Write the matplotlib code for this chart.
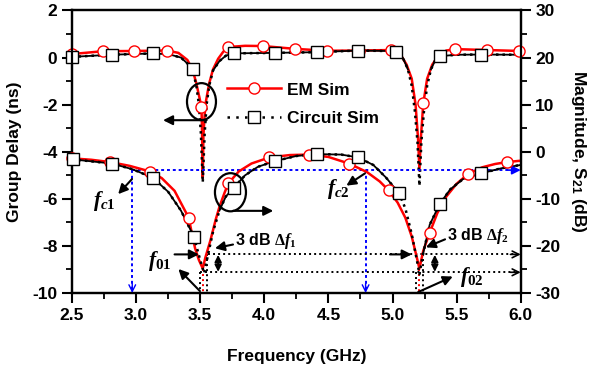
import numpy as np
import matplotlib
matplotlib.use("Agg")
import matplotlib.pyplot as plt
from matplotlib.lines import Line2D
from matplotlib.patches import Ellipse

plt.rcParams['font.family'] = ['Liberation Sans', 'DejaVu Sans']
plt.rcParams['font.weight'] = 'bold'
plt.rcParams['mathtext.fontset'] = 'custom'
plt.rcParams['mathtext.rm'] = 'Liberation Serif:bold'
plt.rcParams['mathtext.it'] = 'Liberation Serif:italic:bold'
plt.rcParams['mathtext.bf'] = 'Liberation Sans:bold'

# ---- group delay (ns), left axis ----
em_gd_f = [2.5, 2.74, 2.98, 3.24, 3.33, 3.40, 3.44, 3.47, 3.51, 3.515, 3.52, 3.525, 3.54, 3.57,
           3.60, 3.64, 3.68, 3.72, 3.85, 3.99, 4.24, 4.49, 4.74, 4.99, 5.06, 5.11, 5.15, 5.18,
           5.20, 5.21, 5.22, 5.24, 5.27, 5.31, 5.36, 5.42, 5.49, 5.74, 6.0]
em_gd = [0.15, 0.27, 0.28, 0.30, 0.20, -0.10, -0.50, -1.10, -2.10, -3.30, -5.10, -3.30, -2.00, -1.10,
         -0.50, -0.05, 0.25, 0.45, 0.50, 0.49, 0.37, 0.29, 0.30, 0.32, 0.15, -0.30, -0.90, -2.00,
         -3.50, -4.80, -3.50, -1.95, -0.90, -0.30, 0.10, 0.30, 0.36, 0.32, 0.28]
em_gd_mk_f = [2.5, 2.74, 2.98, 3.24, 3.51, 3.72, 3.99, 4.24, 4.49, 4.74, 4.99, 5.24, 5.49, 5.74, 5.99]
em_gd_mk = [0.15, 0.27, 0.28, 0.30, -2.10, 0.45, 0.49, 0.37, 0.29, 0.30, 0.32, -1.95, 0.36, 0.32, 0.28]

ci_gd_f = [2.5, 2.8, 3.1, 3.25, 3.35, 3.41, 3.44, 3.47, 3.49, 3.505, 3.52, 3.535, 3.55, 3.57,
           3.60, 3.65, 3.70, 3.76, 4.08, 4.41, 4.73, 4.95, 5.03, 5.08, 5.12, 5.15, 5.175, 5.195,
           5.21, 5.225, 5.245, 5.27, 5.30, 5.33, 5.37, 5.5, 5.69, 6.0]
ci_gd = [0.03, 0.12, 0.17, 0.15, 0.00, -0.30, -0.50, -1.20, -2.00, -3.20, -5.30, -3.20, -2.00, -1.20,
         -0.55, -0.15, 0.08, 0.18, 0.20, 0.23, 0.30, 0.28, 0.20, 0.00, -0.50, -1.20, -2.30, -3.60,
         -5.45, -3.60, -2.30, -1.20, -0.50, -0.15, 0.06, 0.12, 0.13, 0.12]
ci_gd_mk_f = [2.5, 2.81, 3.13, 3.44, 3.76, 4.08, 4.41, 4.73, 5.03, 5.37, 5.69]
ci_gd_mk = [0.03, 0.13, 0.18, -0.50, 0.20, 0.20, 0.23, 0.30, 0.22, 0.06, 0.13]

# ---- |S21| (dB), right axis ----
em_s21_f = [2.5, 2.65, 2.8, 2.95, 3.11, 3.2, 3.3, 3.41, 3.44, 3.46, 3.49, 3.52, 3.54, 3.58, 3.62,
            3.65, 3.69, 3.72, 3.8, 3.9, 4.04, 4.2, 4.35, 4.5, 4.66, 4.8, 4.9, 4.97, 5.04, 5.1,
            5.15, 5.19, 5.21, 5.24, 5.29, 5.35, 5.42, 5.5, 5.59, 5.7, 5.8, 5.89, 6.0]
em_s21 = [-1.4, -1.7, -2.2, -3.0, -4.2, -5.6, -8.3, -14.0, -18.0, -20.5, -23.0, -24.8, -22.5, -18.8, -14.5,
          -11.7, -8.7, -6.7, -4.2, -2.5, -1.2, -0.7, -0.6, -1.1, -2.5, -4.3, -6.3, -8.2, -10.8, -14.0,
          -18.0, -22.5, -24.8, -21.0, -17.2, -13.0, -9.5, -6.8, -4.7, -3.3, -2.6, -2.2, -1.9]
em_s21_mk_f = [2.5, 2.80, 3.11, 3.41, 3.72, 4.04, 4.35, 4.66, 4.97, 5.29, 5.59, 5.89]
em_s21_mk = [-1.4, -2.2, -4.2, -14.0, -6.7, -1.2, -0.6, -2.5, -8.2, -17.2, -4.7, -2.2]

ci_s21_f = [2.5, 2.81, 2.97, 3.13, 3.25, 3.35, 3.45, 3.49, 3.53, 3.56, 3.60, 3.65, 3.70, 3.76, 3.85,
            3.95, 4.08, 4.25, 4.41, 4.6, 4.73, 4.85, 4.95, 5.05, 5.10, 5.15, 5.19, 5.21, 5.24, 5.29,
            5.37, 5.45, 5.55, 5.69, 5.85, 6.0]
ci_s21 = [-1.6, -2.5, -3.7, -5.5, -8.5, -12.5, -18.0, -22.0, -25.8, -22.0, -17.0, -12.5, -9.5, -7.7, -5.0,
          -3.2, -2.0, -0.9, -0.5, -0.6, -1.2, -2.8, -5.5, -8.8, -12.0, -17.5, -23.0, -26.0, -21.5, -15.5,
          -11.0, -8.0, -5.8, -4.6, -3.5, -2.8]
ci_s21_mk_f = [2.51, 2.81, 3.13, 3.45, 3.76, 4.08, 4.41, 4.73, 5.05, 5.37, 5.69]
ci_s21_mk = [-1.6, -2.5, -5.5, -18.0, -7.7, -2.0, -0.5, -1.2, -8.8, -11.0, -4.6]

# regions where the circuit curve shows as dots
gd_dot_windows = [(3.45, 3.60), (5.12, 5.30)]
s21_dot_windows = [(3.45, 3.62), (5.05, 5.24)]

# marked frequencies
fc1, fc2 = 2.97, 4.79
f01, f02 = 3.52, 5.21
cut_db = -3.9
top_db, low_db = -21.8, -25.6

RED = '#ff0000'
BLUE = '#0000ff'


def split_dotted(f, y, windows):
    f = np.asarray(f)
    y = np.asarray(y, dtype=float)
    inside = np.zeros(len(f), bool)
    for a, b in windows:
        inside |= (f > a) & (f < b)
    return np.where(inside, np.nan, y)


fig = plt.figure(figsize=(6.04, 3.67), dpi=100)
ax = fig.add_axes([0.1192, 0.2016, 0.7429, 0.7698])
ax2 = ax.twinx()

mk_c = dict(marker='o', ms=8, mfc='white', mec=RED, mew=1.0, ls='none', clip_on=False, zorder=5)
mk_s = dict(marker='s', ms=8.5, mfc='white', mec='k', mew=1.0, ls='none', clip_on=False, zorder=6)
dots = (0, (1, 1.6))

# upper curves
ax.plot(em_gd_f, em_gd, color=RED, lw=1.8, zorder=2)
ax.plot(ci_gd_f, ci_gd, color='k', lw=1.8, ls=dots, zorder=3)
ax.plot(ci_gd_f, split_dotted(ci_gd_f, ci_gd, gd_dot_windows), color='k', lw=1.3, zorder=3)
ax.plot(em_gd_mk_f, em_gd_mk, **mk_c)
ax.plot(ci_gd_mk_f, ci_gd_mk, **mk_s)

# lower curves
ax2.plot(em_s21_f, em_s21, color=RED, lw=1.8, zorder=2)
ax2.plot(ci_s21_f, ci_s21, color='k', lw=1.8, ls=dots, zorder=3)
ax2.plot(ci_s21_f, split_dotted(ci_s21_f, ci_s21, s21_dot_windows), color='k', lw=1.3, zorder=3)
ax2.plot(em_s21_mk_f, em_s21_mk, **mk_c)
ax2.plot(ci_s21_mk_f, ci_s21_mk, **mk_s)

# axes
ax.set_xlim(2.5, 6.0)
ax.set_ylim(-10, 2)
ax2.set_ylim(-30, 30)
ax.set_xticks(np.arange(2.5, 6.01, 0.5))
ax.set_xticks(np.arange(2.5, 6.01, 0.25), minor=True)
ax.set_yticks(np.arange(-10, 2.01, 2))
ax.set_yticks(np.arange(-10, 2.01, 1), minor=True)
ax2.set_yticks(np.arange(-30, 30.1, 10))
ax2.set_yticks(np.arange(-30, 30.1, 5), minor=True)
ax.set_xticklabels(['%.1f' % v for v in np.arange(2.5, 6.01, 0.5)])
ax.set_yticklabels(['%d' % v for v in np.arange(-10, 2.01, 2)])
ax2.set_yticklabels(['%d' % v for v in np.arange(-30, 30.1, 10)])
for a in (ax, ax2):
    for s in a.spines.values():
        s.set_linewidth(1.6)
    a.tick_params(which='major', direction='out', length=7, width=1.5, labelsize=12.5)
    a.tick_params(which='minor', direction='out', length=4, width=1.3)
ax.tick_params(which='both', top=False, right=False)
ax2.tick_params(which='both', left=False, top=False, bottom=False)

lab = dict(fontsize=12.5, fontweight='bold')
ax.set_xlabel('Frequency (GHz)', **lab)
ax.set_ylabel('Group Delay (ns)', **lab)
ax2.set_ylabel(r'Magnitude, S$_\mathbf{21}$ (dB)', rotation=270, **lab)
ax.xaxis.set_label_coords(0.501, -0.198)
ax.yaxis.set_label_coords(-0.111, 0.5)
ax2.yaxis.set_label_coords(1.15, 0.5)

# legend
h_em = Line2D([], [], color=RED, lw=1.8, marker='o', ms=8, mfc='white', mec=RED)
h_ci = Line2D([], [], color='k', lw=1.8, ls=(0, (1, 2.5)), marker='s', ms=8.5, mfc='white', mec='k')
ax2.legend([h_em, h_ci], ['EM Sim', 'Circuit Sim'], loc='center left', bbox_to_anchor=(0.345, 0.668),
           frameon=False, handlelength=3.1, handletextpad=0.35, labelspacing=0.78, borderpad=0,
           borderaxespad=0, prop=dict(family='Liberation Sans', weight='bold', size=12.5))


def arrow(a, tail, head, style='-|>', color='k', lw=1.5, ms=14):
    a.annotate('', xy=head, xytext=tail,
               arrowprops=dict(arrowstyle=style, color=color, lw=lw, mutation_scale=ms,
                               shrinkA=0, shrinkB=0), annotation_clip=False)


# ellipses with arrows pointing to their axis
ax.add_patch(Ellipse((3.51, -1.87), 0.226, 1.57, fill=False, lw=1.6, ec='k', zorder=7))
arrow(ax, (3.55, -2.66), (3.21, -2.66))
ax2.add_patch(Ellipse((3.736, -8.6), 0.242, 8.1, fill=False, lw=1.6, ec='k', zorder=7))
arrow(ax2, (3.756, -12.55), (4.07, -12.55))

# blue cutoff markers
blue_ls = (0, (1.5, 1.5))
ax2.plot([fc1, 5.97], [cut_db, cut_db], color=BLUE, lw=1.4, ls=blue_ls, zorder=1)
arrow(ax2, (5.9, cut_db), (6.0, cut_db), color=BLUE, lw=1.2, ms=13)
for fc in (fc1, fc2):
    ax2.plot([fc, fc], [cut_db, -29.5], color=BLUE, lw=1.4, ls=blue_ls, zorder=1)
    arrow(ax2, (fc, -28.0), (fc, -30.0), style='->', color=BLUE, lw=1.0, ms=12)

# 3 dB reference lines
bl_ls = (0, (1, 1.6))
ax2.plot([3.56, 5.98], [top_db, top_db], color='k', lw=1.4, ls=bl_ls, zorder=1)
ax2.plot([3.50, 5.98], [low_db, low_db], color='k', lw=1.4, ls=bl_ls, zorder=1)
for yy in (top_db, low_db):
    arrow(ax2, (5.92, yy), (6.0, yy), style='->', lw=1.2, ms=12)
for fa, fb in ((3.50, 3.55), (5.18, 5.24)):
    ax2.plot([fa, fa], [low_db, -30], color='k', lw=1.4, ls=bl_ls, zorder=1)
    ax2.plot([fb, fb], [top_db, -30], color='k', lw=1.4, ls=bl_ls, zorder=1)
for f0 in (f01, f02):
    ax2.plot([f0, f0], [-25.0, -30], color=RED, lw=1.4, ls=bl_ls, zorder=1)

arrow(ax2, (3.64, top_db - 0.1), (3.64, low_db + 0.1), style='<|-|>', lw=1.3, ms=10)
arrow(ax2, (5.33, top_db - 0.1), (5.33, low_db + 0.1), style='<|-|>', lw=1.3, ms=10)
arrow(ax2, (3.30, top_db), (3.49, top_db))
arrow(ax2, (4.98, top_db), (5.15, top_db))
arrow(ax2, (3.498, -29.6), (3.33, -24.9))
arrow(ax2, (5.20, -29.8), (5.47, -26.5))
arrow(ax2, (2.968, -5.8), (2.86, -9.0))
arrow(ax2, (4.785, -4.6), (4.64, -7.2))
arrow(ax2, (3.756, -19.7), (3.615, -20.5))
arrow(ax2, (5.41, -18.6), (5.26, -20.3))

# text labels
ft = dict(fontsize=15.5, ha='left', va='baseline')
ax2.text(2.665, -11.5, r'$f_{c1}$', **ft)
ax2.text(4.49, -8.9, r'$f_{c2}$', **ft)
ax2.text(3.09, -24.3, r'$f_{01}$', **ft)
ax2.text(5.525, -27.6, r'$f_{02}$', **ft)
ax2.text(3.771, -19.9, r'3 dB $\Delta f_1$', fontsize=11.5, fontweight='bold', ha='left', va='baseline')
ax2.text(5.425, -18.8, r'3 dB $\Delta f_2$', fontsize=11.5, fontweight='bold', ha='left', va='baseline')

fig.savefig('out.png', dpi=100)
